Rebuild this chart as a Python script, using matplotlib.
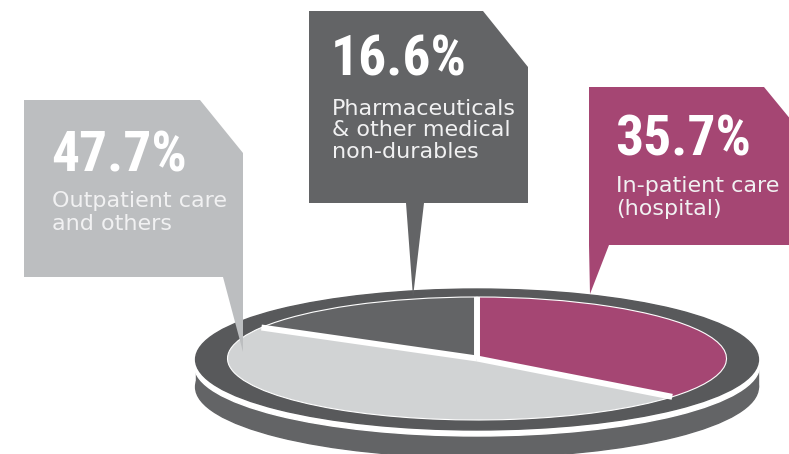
import matplotlib
matplotlib.use("Agg")
import matplotlib.pyplot as plt
from matplotlib.patches import Polygon, Ellipse, Rectangle
import numpy as np

# spending shares (%), drawn counter-clockwise from 12 o'clock
categories = ['Pharmaceuticals\n& other medical\nnon-durables',
              'Outpatient care\nand others',
              'In-patient care\n(hospital)']
shares = [16.6, 47.7, 35.7]
slice_colors = ['#636466', '#d1d3d4', '#a54673']
box_colors = ['#636466', '#bcbec0', '#a54673']

W, H = 789, 454
fig = plt.figure(figsize=(W / 100, H / 100), dpi=100)
fig.patch.set_facecolor('white')

# ---- pie (flattened circle) ----
cx, cy = 477, 358.5      # pixel centre of the pie
ax_px, ay_px = 249.5, 61.5  # pixel size of one unit radius
pax = fig.add_axes([0, 0, 1, 1])
pax.axis('off')

rim_w, rim_h = 2 * 1.128, 2 * 1.146
base_dy = -(387 - cy) / ay_px
rim_dy = -1 / ay_px
pax.add_patch(Ellipse((0, base_dy), rim_w, rim_h, color='#636466', zorder=1))
pax.add_patch(Rectangle((-rim_w / 2, base_dy), rim_w, rim_dy - base_dy,
                        color='#636466', zorder=1))
pax.add_patch(Ellipse((0, -7 / ay_px), rim_w + 0.01, rim_h, color='white', zorder=2))
pax.add_patch(Ellipse((0, rim_dy), rim_w, rim_h, color='#58595b', zorder=3))

wedges, _ = pax.pie(shares, colors=slice_colors, startangle=90, counterclock=True,
                    radius=1, center=(0, 0),
                    wedgeprops=dict(edgecolor='white', linewidth=0.8))
for w in wedges:
    w.set_zorder(4)
    t = np.deg2rad(w.theta1)
    pax.plot([0, np.cos(t)], [0, np.sin(t)], color='white', lw=4.3,
             solid_capstyle='butt', zorder=5)

pax.set_aspect('auto')
pax.set_xlim((0 - cx) / ax_px, (W - cx) / ax_px)
pax.set_ylim((cy - H) / ay_px, cy / ay_px)

# ---- callout boxes ----
ax = fig.add_axes([0, 0, 1, 1])
ax.set_xlim(0, W)
ax.set_ylim(H, 0)
ax.axis('off')
ax.patch.set_alpha(0)

boxes = [
    [(309, 11), (483, 11), (528, 67), (528, 203), (424, 203), (413, 297), (406, 203), (309, 203)],
    [(24, 100), (200, 100), (243, 153), (243, 352), (223, 277), (24, 277)],
    [(589, 87), (764, 87), (810, 143), (810, 245), (609, 245), (590, 294), (589, 245)],
]
text_pos = [(331, 76), (51, 171), (615, 156)]   # left x, baseline of the percentage
line_gap = [(39, 21.5), (36, 23), (36, 23)]

pct_font = ['Roboto Condensed', 'Roboto', 'DejaVu Sans']
for i, (poly, col) in enumerate(zip(boxes, box_colors)):
    ax.add_patch(Polygon(poly, closed=True, facecolor=col, edgecolor='none'))
    x0, y0 = text_pos[i]
    ax.text(x0, y0, f"{shares[i]:.1f}%", family=pct_font, weight='bold',
            fontsize=40, color='white', va='baseline', ha='left')
    first, step = line_gap[i]
    for j, line in enumerate(categories[i].split('\n')):
        ax.text(x0 + 1, y0 + first + j * step, line, family='DejaVu Sans', fontsize=16,
                color='#f1f1f2', va='baseline', ha='left')

fig.savefig('out.png', dpi=100)
